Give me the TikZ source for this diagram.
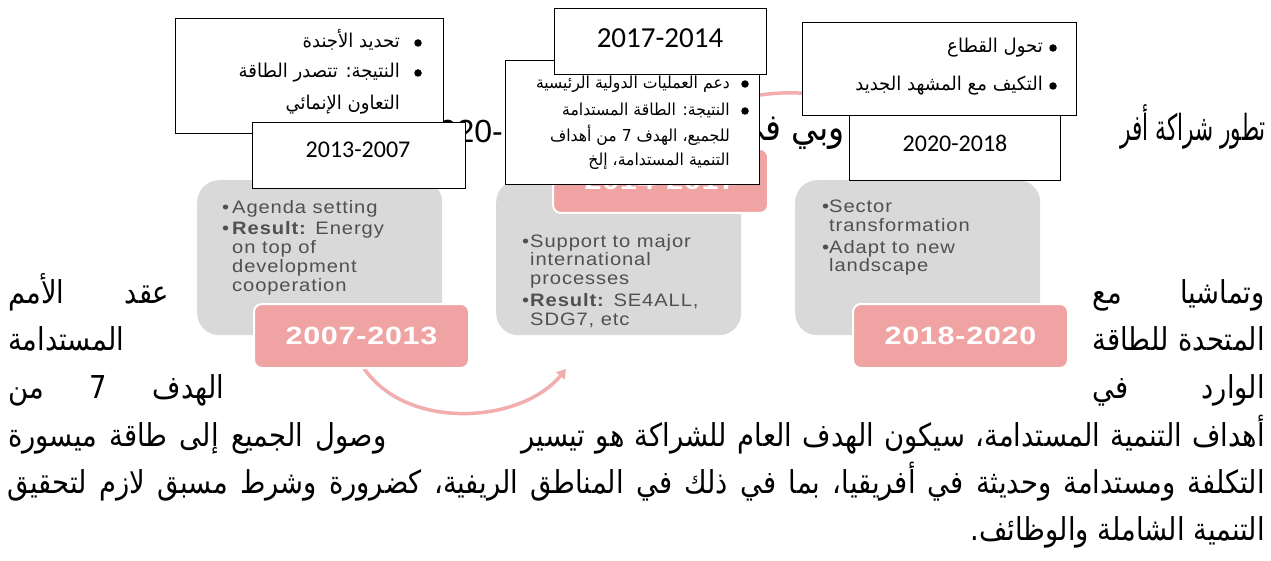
\documentclass[tikz,border=0pt]{standalone}
\usepackage{fontspec}
\usetikzlibrary{arrows.meta}
\setmainfont{Liberation Sans}
\newfontfamily\arabicfont[Script=Arabic,FakeStretch=0.87]{DejaVu Sans}
\newfontfamily\arabictitle[Script=Arabic,FakeStretch=0.9]{DejaVu Sans}
\newfontfamily\arabicnarrow[Script=Arabic,FakeStretch=0.6]{DejaVu Sans}
\newfontfamily\arabicbox[Script=Arabic,FakeStretch=0.95]{DejaVu Sans}
\newfontfamily\smartfont[FakeStretch=1.12,LetterSpace=5]{Liberation Sans}
\newfontfamily\pinkfont[FakeStretch=1.22,LetterSpace=3]{Liberation Sans}
\newfontfamily\yearfont{Carlito}
\TeXXeTstate=1
\definecolor{grayfill}{HTML}{D9D9D9}
\definecolor{pinkfill}{HTML}{EFA3A3}
\definecolor{arcpink}{HTML}{F2AEAE}
\definecolor{graytext}{HTML}{505050}
\newcommand{\jbox}[2]{\hbox to #1{\spaceskip=.25em plus 1fil minus .2em #2}}
\begin{document}
\begin{tikzpicture}[x=1pt,y=-1pt,
  body/.style={font=\arabicfont\fontsize{31.5}{36}\selectfont, inner sep=0, anchor=base east},
  bodyl/.style={body, anchor=base west},
  ttl/.style={font=\arabictitle\fontsize{37}{40}\selectfont, inner sep=0, anchor=base east},
  titlenum/.style={font=\fontsize{32}{36}\selectfont, inner sep=0, anchor=base east},
  gbox/.style={draw=none, fill=grayfill, rounded corners=22pt, inner sep=0, anchor=north west},
  pbox/.style={draw=white, line width=2pt, fill=pinkfill, rounded corners=8pt, inner sep=0, anchor=north west,
     minimum width=215pt, minimum height=64pt, text=white, font=\pinkfont\bfseries\fontsize{25}{25}\selectfont},
  gtxt/.style={font=\smartfont\fontsize{18}{18.7}\selectfont, text=graytext, align=left, inner sep=0, anchor=north west},
  arcline/.style={draw=arcpink, line width=3.5pt, -{Triangle[length=9pt,width=11pt]}},
  wbox/.style={draw=black, line width=1.3pt, fill=white, inner sep=0, anchor=north west},
  ytxt/.style={font=\yearfont\fontsize{24}{24}\selectfont, inner sep=0},
  atxt/.style={font=\arabicbox\fontsize{19}{22}\selectfont, inner sep=0, anchor=base east},
  btxt/.style={font=\arabicbox\fontsize{16.5}{20}\selectfont, inner sep=0, anchor=base east},
  ctxt/.style={font=\arabicbox\fontsize{19}{22}\selectfont, inner sep=0, anchor=base east},
  bullet/.style={circle, fill=black, inner sep=0, minimum size=7.5pt}
]
\useasboundingbox (0,0) rectangle (1271,561);
\fill[white] (0,0) rectangle (1271,561);

% title fragments
\node[ttl, font=\arabicnarrow\fontsize{36}{40}\selectfont] (t1) at (1266,141) {\beginR تطور شراكة أفر\endR};
\node[ttl] (t2) at (845,141) {\beginR وبي في\endR};
\node[titlenum] (t3) at (503,143) {2020-};

% paragraph
\node[body] (l2r) at (1265,303) {\jbox{172pt}{\beginR وتماشيا مع\endR}};
\node[bodyl] (l2l) at (8,303) {\jbox{161pt}{\beginR عقد الأمم\endR}};
\node[body] (l3r) at (1265,350) {\jbox{172pt}{\beginR المتحدة للطاقة\endR}};
\node[bodyl] (l3l) at (8,350) {\beginR المستدامة\endR};
\node[body] (l4r) at (1265,398) {\jbox{172pt}{\beginR الوارد في\endR}};
\node[bodyl] (l4l) at (8,398) {\jbox{216pt}{\beginR الهدف 7 من\endR}};
\node[body] (l5r) at (1265,446) {\jbox{743pt}{\beginR أهداف التنمية المستدامة، سيكون الهدف العام للشراكة هو تيسير\endR}};
\node[bodyl] (l5l) at (8,446) {\jbox{378pt}{\beginR وصول الجميع إلى طاقة ميسورة\endR}};
\node[body] (l6) at (1265,493) {\jbox{1257pt}{\beginR التكلفة ومستدامة وحديثة في أفريقيا، بما في ذلك في المناطق الريفية، كضرورة وشرط مسبق لازم لتحقيق\endR}};
\node[body] (l7) at (1265,540) {\beginR التنمية الشاملة والوظائف.\endR};

% smartart gray blocks
\node[gbox, minimum width=245pt, minimum height=155pt] (g1) at (197,180) {};
\node[gbox, minimum width=245pt, minimum height=155pt] (g2) at (496,180) {};
\node[gbox, minimum width=245pt, minimum height=155pt] (g3) at (795,180) {};
\node[gtxt] (g1t) at (222,200) {\makebox[10pt][l]{•}Agenda setting\\[3pt]\makebox[10pt][l]{•}\textbf{Result:} Energy\\\hspace*{10pt}on top of\\\hspace*{10pt}development\\\hspace*{10pt}cooperation};
\node[gtxt] (g2t) at (522,234) {\makebox[8pt][l]{•}Support to major\\\hspace*{8pt}international\\\hspace*{8pt}processes\\[3pt]\makebox[8pt][l]{•}\textbf{Result:} SE4ALL,\\\hspace*{8pt}SDG7, etc};
\node[gtxt] (g3t) at (822,200) {\makebox[7pt][l]{•}Sector\\\hspace*{7pt}transformation\\[3pt]\makebox[7pt][l]{•}Adapt to new\\\hspace*{7pt}landscape};

% arcs
\coordinate (a1s) at (360,362);
\coordinate (a1e) at (566,369);
\draw[arcline] (a1s) .. controls (400,432) and (520,425) .. (a1e);
\coordinate (a2s) at (660,152);
\coordinate (a2e) at (905,150);
\draw[arcline] (a2s) .. controls (700,80) and (860,70) .. (a2e);

% pink labels
\node[pbox] (p1) at (253,303) {2007-2013};
\node[pbox] (p2) at (552,148) {2014-2017};
\node[pbox] (p3) at (852,303) {2018-2020};

% overlay boxes, left
\node[wbox, minimum width=268pt, minimum height=115pt] (bA) at (175,18) {};
\node[atxt] (bA1) at (400,48) {\beginR تحديد الأجندة\endR};
\node[atxt] (bA2) at (400,78) {\beginR النتيجة: تتصدر الطاقة\endR};
\node[atxt] (bA3) at (400,110) {\beginR التعاون الإنمائي\endR};
\node[bullet] (uA1) at (418,43) {};
\node[bullet] (uA2) at (418,73) {};
\node[wbox, minimum width=213pt, minimum height=66pt] (yA) at (252,122) {};
\node[ytxt] (yAt) at (358,150) {2013-2007};

% overlay boxes, middle
\node[wbox, minimum width=254pt, minimum height=124pt] (bB) at (505,60) {};
\node[btxt] (bB1) at (730,89) {\beginR دعم العمليات الدولية الرئيسية\endR};
\node[btxt] (bB2) at (730,116) {\beginR النتيجة: الطاقة المستدامة\endR};
\node[btxt] (bB3) at (730,142) {\beginR للجميع، الهدف 7 من أهداف\endR};
\node[btxt] (bB4) at (730,166) {\beginR التنمية المستدامة، إلخ\endR};
\node[bullet] (uB1) at (745,84) {};
\node[bullet] (uB2) at (745,111) {};
\node[wbox, minimum width=212pt, minimum height=66pt] (yB) at (554,8) {};
\node[ytxt, font=\yearfont\fontsize{29}{29}\selectfont] (yBt) at (660,38) {2017-2014};

% overlay boxes, right
\node[wbox, minimum width=274pt, minimum height=93pt] (bC) at (802,22) {};
\node[ctxt] (bC1) at (1043,53) {\beginR تحول القطاع\endR};
\node[ctxt] (bC2) at (1043,91) {\beginR التكيف مع المشهد الجديد\endR};
\node[bullet] (uC1) at (1053,48) {};
\node[bullet] (uC2) at (1053,86) {};
\node[wbox, minimum width=211pt, minimum height=65pt] (yC) at (849,115) {};
\node[ytxt] (yCt) at (955,143) {2020-2018};
\end{tikzpicture}
\end{document}
